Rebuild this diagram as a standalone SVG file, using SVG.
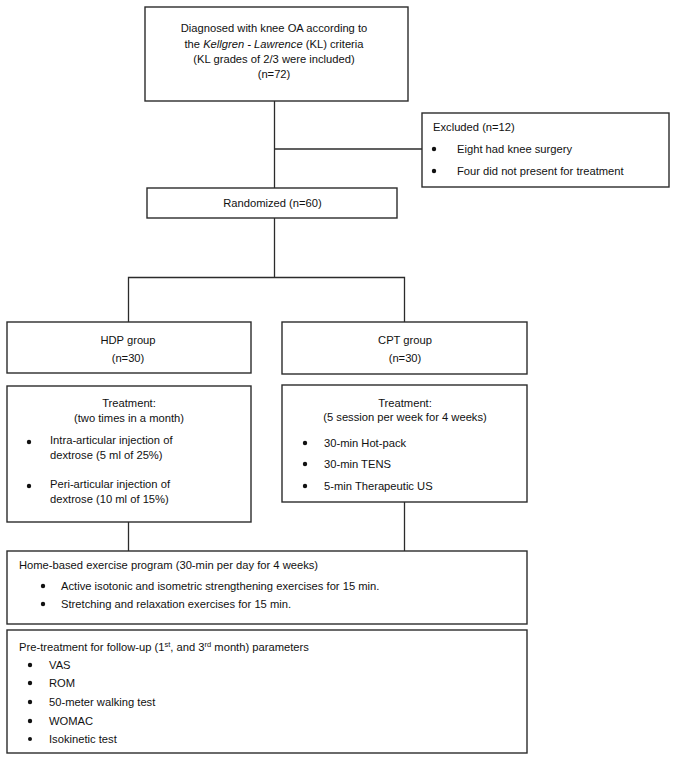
<svg xmlns="http://www.w3.org/2000/svg" width="677" height="761" viewBox="0 0 677 761">
<style>
.box{fill:#fff;stroke:#2b2b2b;stroke-width:1.4}
.ln{fill:none;stroke:#2b2b2b;stroke-width:1.3}
text{font-family:"Liberation Sans",Arial,Helvetica,sans-serif;font-size:11.2px;fill:#111}
.c{text-anchor:middle}
.dot{fill:#111}
</style>
<rect width="677" height="761" fill="#fff"/>
<g id="connectors">
<path class="ln" d="M274.5 101V188"/>
<path class="ln" d="M274.5 149H422"/>
<path class="ln" d="M274.5 218V277.5"/>
<path class="ln" d="M128.5 322V277.5H404.5V322"/>
<path class="ln" d="M128.5 522V551"/>
<path class="ln" d="M404.5 502V551"/>
</g>
<g id="diagnosed">
<rect class="box" x="145" y="7" width="263" height="94"/>
<text class="c" x="274" y="32">Diagnosed with knee OA according to</text>
<text class="c" x="274" y="47.5">the <tspan font-style="italic">Kellgren - Lawrence</tspan> (KL) criteria</text>
<text class="c" x="274" y="63">(KL grades of 2/3 were included)</text>
<text class="c" x="274" y="78">(n=72)</text>
</g>
<g id="excluded">
<rect class="box" x="422" y="113" width="247" height="74"/>
<text x="433" y="131">Excluded (n=12)</text>
<circle class="dot" cx="434" cy="149" r="2.2"/>
<text x="457" y="153">Eight had knee surgery</text>
<circle class="dot" cx="434" cy="171" r="2.2"/>
<text x="457" y="175">Four did not present for treatment</text>
</g>
<g id="randomized">
<rect class="box" x="147" y="188" width="250" height="30"/>
<text class="c" x="272.5" y="207">Randomized (n=60)</text>
</g>
<g id="hdp">
<rect class="box" x="7" y="322" width="244" height="51"/>
<text class="c" x="128" y="344">HDP group</text>
<text class="c" x="128" y="362">(n=30)</text>
</g>
<g id="cpt">
<rect class="box" x="282" y="322" width="245" height="52"/>
<text class="c" x="405" y="344">CPT group</text>
<text class="c" x="405" y="362">(n=30)</text>
</g>
<g id="hdp-treatment">
<rect class="box" x="7" y="386" width="244" height="136"/>
<text class="c" x="129" y="407">Treatment:</text>
<text class="c" x="129" y="422">(two times in a month)</text>
<circle class="dot" cx="29" cy="442" r="2.2"/>
<text x="50" y="444">Intra-articular injection of</text>
<text x="50" y="459">dextrose (5 ml of 25%)</text>
<circle class="dot" cx="29" cy="486" r="2.2"/>
<text x="50" y="488">Peri-articular injection of</text>
<text x="50" y="503">dextrose (10 ml of 15%)</text>
</g>
<g id="cpt-treatment">
<rect class="box" x="282" y="385" width="245" height="117"/>
<text class="c" x="405" y="407">Treatment:</text>
<text class="c" x="405" y="421">(5 session per week for 4 weeks)</text>
<circle class="dot" cx="305" cy="443" r="2.2"/>
<text x="324" y="447">30-min Hot-pack</text>
<circle class="dot" cx="305" cy="464" r="2.2"/>
<text x="324" y="468">30-min TENS</text>
<circle class="dot" cx="305" cy="486" r="2.2"/>
<text x="324" y="490">5-min Therapeutic US</text>
</g>
<g id="home-exercise">
<rect class="box" x="7" y="551" width="520" height="73"/>
<text x="19" y="569">Home-based exercise program (30-min per day for 4 weeks)</text>
<circle class="dot" cx="43" cy="586" r="2.2"/>
<text x="61" y="590">Active isotonic and isometric strengthening exercises for 15 min.</text>
<circle class="dot" cx="43" cy="604" r="2.2"/>
<text x="61" y="608">Stretching and relaxation exercises for 15 min.</text>
</g>
<g id="parameters">
<rect class="box" x="7" y="630" width="520" height="123"/>
<text x="19" y="651">Pre-treatment for follow-up (1<tspan font-size="7.5px" dy="-4">st</tspan><tspan dy="4">, and 3</tspan><tspan font-size="7.5px" dy="-4">rd</tspan><tspan dy="4"> month) parameters</tspan></text>
<circle class="dot" cx="30" cy="665" r="2.2"/>
<text x="49" y="669">VAS</text>
<circle class="dot" cx="30" cy="683" r="2.2"/>
<text x="49" y="687">ROM</text>
<circle class="dot" cx="30" cy="702" r="2.2"/>
<text x="49" y="706">50-meter walking test</text>
<circle class="dot" cx="30" cy="721" r="2.2"/>
<text x="49" y="725">WOMAC</text>
<circle class="dot" cx="30" cy="739" r="2"/>
<text x="49" y="743">Isokinetic test</text>
</g>
</svg>
